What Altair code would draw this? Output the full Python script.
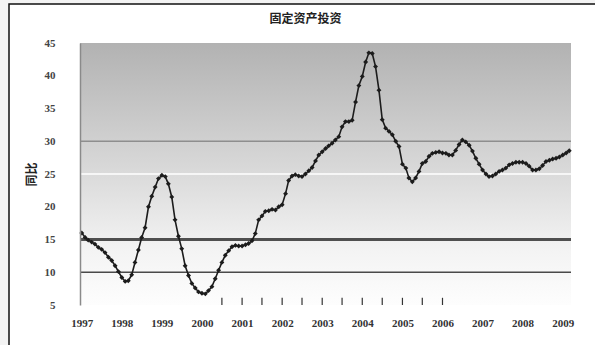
import altair as alt
import pandas as pd

# monthly series, Jan 1997 .. Mar 2009
years = list(range(1997, 2010))
v1997 = [16.0, 15.3, 14.9, 14.6, 14.3, 13.8, 13.5, 13.0, 12.3, 11.8, 11.0, 10.1]
v1998 = [9.2, 8.6, 8.7, 9.6, 11.5, 13.4, 15.3, 16.8, 20.0, 21.6, 23.0, 24.3]
v1999 = [24.8, 24.6, 23.5, 21.5, 18.0, 15.5, 13.6, 11.0, 9.5, 8.3, 7.6, 7.0]
v2000 = [6.8, 6.7, 7.2, 7.8, 9.0, 10.3, 11.5, 12.6, 13.3, 13.9, 14.1, 14.0]
v2001 = [14.0, 14.2, 14.4, 14.8, 15.9, 18.0, 18.6, 19.3, 19.4, 19.6, 19.5, 20.0]
v2002 = [20.3, 22.0, 24.0, 24.7, 24.9, 24.7, 24.6, 25.0, 25.5, 26.0, 27.0, 27.9]
v2003 = [28.4, 28.9, 29.3, 29.7, 30.2, 30.7, 32.2, 33.0, 33.0, 33.2, 36.0, 38.5]
v2004 = [39.9, 42.1, 43.5, 43.4, 41.4, 37.8, 33.3, 32.0, 31.5, 31.0, 30.0, 29.2]
v2005 = [26.5, 25.9, 24.4, 23.8, 24.4, 25.4, 26.6, 26.9, 27.7, 28.15, 28.3, 28.4]
v2006 = [28.2, 28.15, 27.9, 27.9, 28.6, 29.5, 30.2, 29.9, 29.4, 28.5, 27.4, 26.5]
v2007 = [25.6, 25.0, 24.6, 24.7, 25.0, 25.4, 25.6, 25.9, 26.4, 26.6, 26.8, 26.8]
v2008 = [26.8, 26.6, 26.2, 25.6, 25.6, 25.8, 26.3, 26.9, 27.1, 27.3, 27.4, 27.6]
v2009 = [27.9, 28.2, 28.55]

series = [v1997, v1998, v1999, v2000, v2001, v2002, v2003, v2004,
          v2005, v2006, v2007, v2008, v2009]

title_text = "固定资产投资"
y_title = "同比"
y_ticks = [5, 10, 15, 20, 25, 30, 35, 40, 45]
ref_levels = [30, 25, 15, 10]
ref_colors = ["#8e8e8e", "#ffffff", "#4f4f4f", "#4a4a4a"]
ref_widths = [1.5, 1.5, 3, 1.5]
# stray small tick marks under the curve
stray_dates = ["2000-07-01", "2001-01-01", "2001-07-01", "2002-01-01",
               "2002-07-01", "2003-01-01", "2003-07-01", "2004-01-01",
               "2004-07-01", "2005-01-01", "2005-07-01", "2006-01-01"]

rows = []
for yr, vals in zip(years, series):
    for i, v in enumerate(vals):
        rows.append({"date": f"{yr}-{i+1:02d}-01", "value": v})
df = pd.DataFrame(rows)

x_dom = ["1996-12-16", "2009-03-17"]
xscale = alt.Scale(domain=x_dom)
yscale = alt.Scale(domain=[5, 45], nice=False, zero=False)

xaxis = alt.Axis(title=None, format="%Y", tickCount={"interval": "year", "step": 1},
                 domain=False, ticks=False, grid=False, labelFont="Liberation Serif",
                 labelFontSize=11, labelColor="#333333", labelPadding=12,
                 labelFontWeight="bold", zindex=1)
yaxis = alt.Axis(title=y_title, values=y_ticks, grid=False, ticks=False,
                 domainColor="#8a8a8a", domainWidth=1.5,
                 labelFont="Liberation Serif", labelFontSize=11, labelColor="#444444",
                 labelPadding=25, labelFontWeight="bold",
                 titleFont="Noto Sans CJK SC", titleFontSize=12, titleFontWeight="bold",
                 titleColor="#222222", titleAngle=270, titleX=-49, titleY=131,
                 titleAlign="center", titleBaseline="middle", zindex=1)

frame = alt.Chart(pd.DataFrame({"a": [0]})).mark_rect(
    fill="white", stroke="#111111", strokeWidth=1.5
).encode(x=alt.value(-71), x2=alt.value(540), y=alt.value(-39), y2=alt.value(330))

bg = alt.Chart(pd.DataFrame({"x0": [x_dom[0]], "x1": [x_dom[1]], "y0": [45], "y1": [5]})).mark_rect(
    color=alt.Gradient(
        gradient="linear", x1=0, y1=0, x2=0, y2=1,
        stops=[alt.GradientStop(color="#b2b2b2", offset=0),
               alt.GradientStop(color="#d6d6d6", offset=0.45),
               alt.GradientStop(color="#f4f4f4", offset=0.8),
               alt.GradientStop(color="#fdfdfd", offset=1)]
    )
).encode(
    x=alt.X("x0:T", scale=xscale, axis=xaxis), x2="x1:T",
    y=alt.Y("y0:Q", scale=yscale, axis=yaxis), y2="y1:Q"
)

refs = alt.Chart(pd.DataFrame({"y": ref_levels, "c": ref_colors, "w": ref_widths})).mark_rule().encode(
    y=alt.Y("y:Q", scale=yscale, axis=yaxis),
    color=alt.Color("c:N", scale=None),
    strokeWidth=alt.StrokeWidth("w:Q", scale=None),
)

stray = alt.Chart(pd.DataFrame({"d": stray_dates, "y0": 5.0, "y1": 6.1})).mark_rule(
    color="#333333", strokeWidth=1.2
).encode(x=alt.X("d:T", scale=xscale, axis=xaxis),
         y=alt.Y("y0:Q", scale=yscale, axis=yaxis), y2="y1:Q")

line = alt.Chart(df).mark_line(
    color="#1c1c1c", strokeWidth=1.6,
    point=alt.OverlayMarkDef(shape="diamond", filled=True, size=24, color="#1c1c1c")
).encode(
    x=alt.X("date:T", scale=xscale, axis=xaxis),
    y=alt.Y("value:Q", scale=yscale, axis=yaxis),
)

chart = alt.layer(frame, bg, refs, stray, line).properties(
    width=491, height=262,
    autosize=alt.AutoSizeParams(type="none"),
    padding={"left": 80, "top": 43, "right": 24, "bottom": 40},
    background="#f3f3f3",
    title=alt.TitleParams(title_text, font="Noto Sans CJK SC", fontSize=12, fontWeight="bold",
                          color="#222222", anchor="middle", dx=-20, offset=0, dy=23,
                          frame="group", zindex=1),
).configure_view(stroke=None)

chart.save("out.html", embed_options={"renderer": "svg", "actions": False})
